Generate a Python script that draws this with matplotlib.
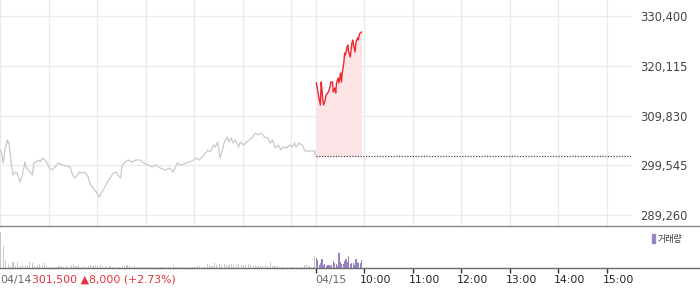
import matplotlib.pyplot as plt
import matplotlib.transforms as mtransforms
from matplotlib.lines import Line2D
from matplotlib.patches import Rectangle
import numpy as np

plt.rcParams['font.family'] = ['DejaVu Sans', 'Noto Sans CJK KR']

# x axis is minutes from 04/14 09:00 -> 04/15 09:00 is minute 390
prev_min = [0, 2, 4, 6, 9, 10, 11, 12, 15, 16, 19, 21, 25, 27, 31, 32, 35, 37, 40, 42,
            45, 47, 50, 52, 56, 58, 61, 64, 68, 72, 77, 82, 87, 89, 92, 94, 98, 102, 105, 109,
            111, 115, 119, 123, 125, 129, 132, 136, 140, 144, 146, 149, 151, 155, 158, 163, 168, 173, 178, 183,
            188, 193, 198, 204, 210, 214, 217, 219, 223, 227, 230, 235, 239, 243, 246, 250, 254, 257, 260, 264,
            266, 269, 271, 272, 275, 277, 281, 283, 286, 288, 291, 295, 297, 301, 305, 308, 312, 316, 319, 323,
            327, 331, 334, 337, 340, 344, 347, 350, 354, 358, 361, 364, 366, 370, 374, 377, 389, 390]
prev_price = [302700, 302080, 300010, 302700, 304770, 304150, 304350, 302700, 298560, 297530,
              298150, 297940, 296080, 297120, 300220, 299180, 298560, 298150, 297530, 300010,
              300220, 300630, 300220, 301040, 300630, 300010, 298980, 298560, 299180, 300010,
              299600, 299390, 299180, 297940, 296910, 297120, 298150, 297940, 298150, 297120,
              295880, 294840, 294020, 292980, 293810, 294840, 295880, 296910, 297940, 298150,
              297530, 296910, 299600, 300220, 300630, 300220, 300630, 300630, 300010, 299600,
              299180, 299600, 298980, 298560, 298980, 298150, 299180, 300010, 299600, 299800,
              300010, 300220, 300630, 301040, 300630, 301250, 302080, 302700, 302290, 303730,
              303320, 304350, 302290, 301040, 302700, 304150, 305390, 304350, 305180, 304150,
              304770, 303320, 304350, 303730, 304350, 304770, 305390, 306210, 305800, 306210,
              305390, 305180, 304150, 304770, 303110, 303730, 302700, 303320, 303110, 303730,
              303320, 304150, 303320, 304150, 303530, 302490, 302490, 301500]

today_start = 390
today_min = [1, 2, 4, 6, 7, 8, 9, 10, 12, 13, 15, 16, 18, 19, 21, 22, 24, 25, 26, 28, 29,
             31, 32, 33, 35, 36, 37, 39, 40, 41, 43, 44, 45, 46, 47, 49, 50, 52, 53, 54, 55, 57]
today_price = [316550, 315720, 313660, 312000, 316760, 315100, 313040, 312000, 313040, 314070,
               314480, 314690, 315720, 316760, 316760, 314690, 315520, 314480, 316550, 317580,
               316550, 318620, 316760, 318620, 320680, 322750, 322340, 323990, 324400, 322960,
               321920, 323370, 324820, 325440, 324400, 322960, 325030, 325850, 325440, 326470,
               326890, 327090]
prev_close = 301500

# volume, 3-minute buckets for 04/14, ~1.75-minute buckets for 04/15
vol_prev = [72, 44, 16, 6, 4, 12, 4, 12, 4, 4, 6, 4, 12, 10, 4, 6, 8, 6, 10, 4,
            2, 2, 2, 2, 4, 4, 2, 4, 2, 6, 8, 4, 4, 2, 4, 2, 4, 6, 4, 6,
            4, 6, 4, 4, 2, 4, 2, 2, 2, 2, 4, 4, 6, 4, 2, 4, 2, 2, 2, 2,
            2, 2, 2, 2, 2, 2, 2, 2, 2, 2, 2, 6, 2, 2, 2, 2, 2, 2, 2, 2,
            2, 4, 4, 2, 2, 8, 4, 4, 10, 6, 8, 6, 8, 6, 6, 8, 6, 6, 8, 6,
            6, 6, 8, 6, 4, 4, 4, 4, 4, 4, 4, 12, 4, 4, 4, 2, 2, 2, 2, 2,
            2, 2, 2, 2, 2, 6, 6, 4, 2, 2]
vol_prev_close = 25
vol_today = [20, 16, 6, 10, 18, 6, 8, 4, 6, 6, 4, 6, 14, 10, 8, 4, 30, 12, 8, 8,
             14, 18, 12, 24, 8, 10, 10, 6, 18, 12, 10, 10, 16]

y_ticks = [289260, 299545, 309830, 320115, 330400]
hour_ticks = [0, 60, 120, 180, 240, 300, 360, 390, 450, 510, 570, 630, 690, 750]
time_labels = ['10:00', '11:00', '12:00', '13:00', '14:00', '15:00']
date_prev, date_today = '04/14', '04/15'
change_text = '301,500 \u25b28,000 (+2.73%)'

fig = plt.figure(figsize=(7, 2.89), dpi=100)
ax = fig.add_axes([0, 63 / 289, 631 / 700, 226 / 289])
axv = fig.add_axes([0, 21 / 289, 631 / 700, 42 / 289])

ax.plot(prev_min, prev_price, color='#c9c9ce', lw=0.9)
t_today = [today_start + m for m in today_min]
ax.fill_between(t_today, today_price, prev_close, color='#fde5e7', lw=0)
ax.plot(t_today, today_price, color='#f0262e', lw=1.0)
ax.plot([today_start, 780], [prev_close, prev_close], color='#444444', lw=0.9, ls=(0, (1, 1.2)))

ax.set_xlim(0, 780)
ax.set_ylim(286990, 333710)
ax.set_xticks(hour_ticks)
ax.set_yticks(y_ticks)
ax.set_yticklabels([f'{v:,}' for v in y_ticks])
ax.yaxis.tick_right()
ax.tick_params(axis='y', length=0, pad=6.5, labelsize=8.3, labelcolor='#444444')
ax.tick_params(axis='x', length=0, labelbottom=False)
ax.grid(color='#ebebeb', lw=1)
ax.set_axisbelow(True)
for s in ax.spines.values():
    s.set_visible(False)

# volume panel
vol_scale = 1000
t_vprev = np.arange(len(vol_prev)) * 3 + 1
axv.bar(t_vprev, np.array(vol_prev) * vol_scale, width=1.4, color='#c8c8cc', lw=0)
axv.bar([today_start - 1], [vol_prev_close * vol_scale], width=1.3, color='#c8c8cc', lw=0)
t_vtoday = today_start + 1 + np.arange(len(vol_today)) * 1.75
bars = axv.bar(t_vtoday, np.array(vol_today) * vol_scale, width=1.45, color='#9783c4', lw=0)
axv.set_xlim(0, 780)
axv.set_ylim(0, 84 * vol_scale)
axv.set_yticks([])
axv.set_xticks([today_start] + hour_ticks[8:])
axv.tick_params(axis='x', length=3.5, width=1, color='#333333', labelbottom=False)
for s in axv.spines.values():
    s.set_visible(False)

fig.add_artist(Line2D([0, 1], [63 / 289, 63 / 289], color='#858585', lw=1))
fig.add_artist(Line2D([0, 1], [21 / 289, 21 / 289], color='#6a6a6a', lw=1))

trans = mtransforms.blended_transform_factory(axv.transData, fig.transFigure)
ty = 9 / 289
t1 = axv.text(0, ty, date_prev, transform=trans, ha='left', va='center', fontsize=7.8, color='#666666')
axv.annotate(change_text, xy=(1, 0), xycoords=t1, xytext=(0.5, 0), textcoords='offset points',
             ha='left', va='bottom', fontsize=7.8, color='#e8303a')
axv.text(today_start, ty, date_today, transform=trans, ha='left', va='center', fontsize=7.8, color='#666666')
shift = mtransforms.ScaledTranslation(-4 / 100, 0, fig.dpi_scale_trans)
for h, lab in zip(hour_ticks[8:], time_labels):
    axv.text(h, ty, lab, transform=trans + shift, ha='left', va='center', fontsize=7.8, color='#222222')

fig.legend(handles=[Rectangle((0, 0), 1, 1, color='#9783c4')], labels=['거래량'],
           loc='upper left', bbox_to_anchor=(652 / 700, 1 - 234 / 289), frameon=False,
           handlelength=0.35, handleheight=1.2, handletextpad=0.3, fontsize=6.5,
           borderaxespad=0, borderpad=0, labelcolor='#333333')

fig.savefig('out.png', dpi=100)
